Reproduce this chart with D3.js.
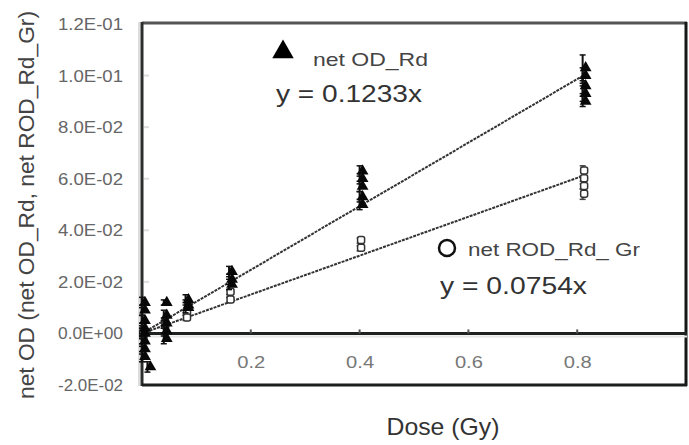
<!DOCTYPE html>
<html><head><meta charset="utf-8">
<script src="https://cdn.jsdelivr.net/npm/d3@7"></script>
<style>html,body{margin:0;padding:0;background:#fff;}svg{display:block;font-family:"Liberation Sans",Arial,sans-serif;}</style>
</head><body>
<svg id="c" width="689" height="445"></svg>
<script>
// ---- data ----
const yTicks = [-0.02, 0, 0.02, 0.04, 0.06, 0.08, 0.10, 0.12];
const yTickLabels = ["-2.0E-02","0.0E+00","2.0E-02","4.0E-02","6.0E-02","8.0E-02","1.0E-01","1.2E-01"];
const xTicks = [0.2, 0.4, 0.6, 0.8];
const xTickLabels = ["0.2","0.4","0.6","0.8"];

const rdDose  = [0,0,0,0,0,0,0,0, 0.01, 0.04,0.04,0.04,0.04,0.04, 0.08,0.08,0.08, 0.16,0.16,0.16, 0.40,0.40,0.40,0.40,0.40, 0.81,0.81,0.81,0.81,0.81];
const rdValue = [0.012,0.009,0.005,0.002,0.000,-0.003,-0.006,-0.009, -0.013, 0.012,0.007,0.004,0.001,-0.002, 0.013,0.011,0.010, 0.024,0.021,0.019, 0.063,0.060,0.057,0.053,0.050, 0.103,0.100,0.096,0.093,0.090];
const rdErr   = [0.002,0.002,0.002,0.002,0.002,0.002,0.002,0.002, 0.002, 0.001,0.002,0.002,0.002,0.002, 0.002,0.002,0.002, 0.002,0.002,0.002, 0.002,0.002,0.002,0.002,0.002, 0.005,0.003,0.003,0.003,0.002];

const rodDose  = [0,0,0, 0.04,0.04, 0.08,0.08, 0.16,0.16, 0.40,0.40, 0.81,0.81,0.81,0.81];
const rodValue = [0.001,-0.001,0.000, 0.004,0.003, 0.008,0.006, 0.016,0.013, 0.036,0.033, 0.063,0.060,0.057,0.054];
const rodErr   = [0.001,0.001,0.001, 0.001,0.001, 0.001,0.001, 0.001,0.001, 0.001,0.001, 0.002,0.001,0.001,0.002];

const fitSlopes = [0.1233, 0.0754];
const fitMaxDose = 0.81;
const legendNames = ["net OD_Rd", "net ROD_Rd_ Gr"];
const equations = ["y = 0.1233x", "y = 0.0754x"];
const xTitle = "Dose (Gy)";
const yTitle = "net OD (net OD_Rd, net ROD_Rd_Gr)";

// ---- drawing ----
const svg = d3.select("#c");
const x = d3.scaleLinear().domain([0, 1]).range([142, 686]);
const y = d3.scaleLinear().domain([-0.02, 0.12]).range([385, 24]);

// frame
svg.append("line").attr("x1",142).attr("x2",687).attr("y1",23).attr("y2",23).attr("stroke","#555").attr("stroke-width",3);
svg.append("line").attr("x1",142).attr("x2",142).attr("y1",22).attr("y2",386).attr("stroke","#2a2e2c").attr("stroke-width",3);
svg.append("line").attr("x1",141).attr("x2",141).attr("y1",22).attr("y2",386).attr("stroke","#bbb").attr("stroke-width",1).attr("transform","translate(-2,0)");
svg.append("line").attr("x1",686).attr("x2",686).attr("y1",22).attr("y2",386).attr("stroke","#141918").attr("stroke-width",3);
svg.append("line").attr("x1",142).attr("x2",687).attr("y1",385).attr("y2",385).attr("stroke","#1a1e1d").attr("stroke-width",3);

// y axis ticks & labels
const yAxis = d3.axisLeft(y).tickValues(yTicks).tickSize(0).tickFormat((d,i)=>yTickLabels[i]).tickPadding(0);
const gy = svg.append("g").attr("transform","translate(123,0)").call(yAxis);
gy.select(".domain").remove();
gy.selectAll("text").attr("font-size",17).attr("fill","#666").attr("font-family","'Liberation Sans',Arial,sans-serif")
  .attr("textLength",65).attr("lengthAdjust","spacingAndGlyphs");
svg.selectAll(".ytk").data(yTicks.slice(2,7)).enter().append("line").attr("class","ytk")
  .attr("x1",144).attr("x2",149).attr("y1",d=>y(d)).attr("y2",d=>y(d)).attr("stroke","#ddd").attr("stroke-width",2);

// x axis at zero
svg.append("line").attr("x1",142).attr("x2",687).attr("y1",y(0)).attr("y2",y(0)).attr("stroke","#1d2120").attr("stroke-width",3);
svg.append("line").attr("x1",142).attr("x2",687).attr("y1",y(0)+3).attr("y2",y(0)+3).attr("stroke","#e6e6e6").attr("stroke-width",2);
const xAxis = d3.axisBottom(x).tickValues(xTicks).tickSize(0).tickFormat((d,i)=>xTickLabels[i]).tickPadding(0);
const gx = svg.append("g").attr("transform","translate(0,356)").call(xAxis);
gx.select(".domain").remove();
gx.selectAll("text").attr("font-size",17).attr("fill","#777").attr("dy","0.71em").attr("font-family","'Liberation Sans',Arial,sans-serif")
  .attr("textLength",28).attr("lengthAdjust","spacingAndGlyphs");
svg.selectAll(".xtk").data(xTicks).enter().append("line").attr("class","xtk")
  .attr("x1",d=>x(d)).attr("x2",d=>x(d)).attr("y1",y(0)-4).attr("y2",y(0)).attr("stroke","#555").attr("stroke-width",2);

// fit lines
fitSlopes.forEach(s=>{
  svg.append("line").attr("x1",x(0)).attr("y1",y(0)).attr("x2",x(fitMaxDose)).attr("y2",y(s*fitMaxDose))
    .attr("stroke","#333").attr("stroke-width",2).attr("stroke-dasharray","3,1");
});

// error bars
function errBars(dose, val, err, color){
  const g = svg.append("g");
  dose.forEach((d,i)=>{
    const xx = x(d), y1 = y(val[i]+err[i]), y2 = y(val[i]-err[i]);
    g.append("line").attr("x1",xx).attr("x2",xx).attr("y1",y1).attr("y2",y2).attr("stroke",color).attr("stroke-width",2);
    g.append("line").attr("x1",xx-3).attr("x2",xx+3).attr("y1",y1).attr("y2",y1).attr("stroke",color).attr("stroke-width",1.5);
    g.append("line").attr("x1",xx-3).attr("x2",xx+3).attr("y1",y2).attr("y2",y2).attr("stroke",color).attr("stroke-width",1.5);
  });
}
errBars(rodDose, rodValue, rodErr, "#444");
// open markers
const rodPts = rodDose.map((d,i)=>({d, v:rodValue[i]}));
svg.selectAll(".rod").data(rodPts).enter().append("rect").attr("class","rod")
  .attr("x",p=>x(p.d)+2-4).attr("y",p=>y(p.v)-4).attr("width",7).attr("height",7).attr("rx",2)
  .attr("fill","#fff").attr("stroke","#333").attr("stroke-width",1.5);

errBars(rdDose, rdValue, rdErr, "#111");
const tri = d3.symbol().type(d3.symbolTriangle).size(60);
const rdPts = rdDose.map((d,i)=>({d, v:rdValue[i]}));
svg.selectAll(".rd").data(rdPts).enter().append("path").attr("class","rd")
  .attr("d",tri).attr("transform",p=>`translate(${x(p.d)+3},${y(p.v)})`).attr("fill","#080808");

// legend 1
svg.append("path").attr("d",d3.symbol().type(d3.symbolTriangle).size(200)).attr("transform","translate(283,52)").attr("fill","#000");
svg.append("text").attr("x",313).attr("y",66).attr("font-size",19).attr("fill","#444").attr("textLength",115).attr("lengthAdjust","spacingAndGlyphs").text(legendNames[0]);
svg.append("text").attr("x",276).attr("y",102).attr("font-size",24).attr("fill","#333").attr("textLength",146).attr("lengthAdjust","spacingAndGlyphs").text(equations[0]);
// legend 2
svg.append("circle").attr("cx",447).attr("cy",248).attr("r",8).attr("fill","#fff").attr("stroke","#111").attr("stroke-width",2.5);
svg.append("text").attr("x",468).attr("y",256).attr("font-size",19).attr("fill","#444").attr("textLength",172).attr("lengthAdjust","spacingAndGlyphs").text(legendNames[1]);
svg.append("text").attr("x",440).attr("y",294).attr("font-size",24).attr("fill","#333").attr("textLength",147).attr("lengthAdjust","spacingAndGlyphs").text(equations[1]);

// axis titles
svg.append("text").attr("x",443).attr("y",435).attr("text-anchor","middle").attr("font-size",24).attr("fill","#333")
  .attr("textLength",113).attr("lengthAdjust","spacingAndGlyphs").text(xTitle);
svg.append("text").attr("transform","translate(34,205) rotate(-90)").attr("text-anchor","middle").attr("font-size",22).attr("fill","#444")
  .attr("textLength",388).attr("lengthAdjust","spacingAndGlyphs").text(yTitle);
</script>
</body></html>
